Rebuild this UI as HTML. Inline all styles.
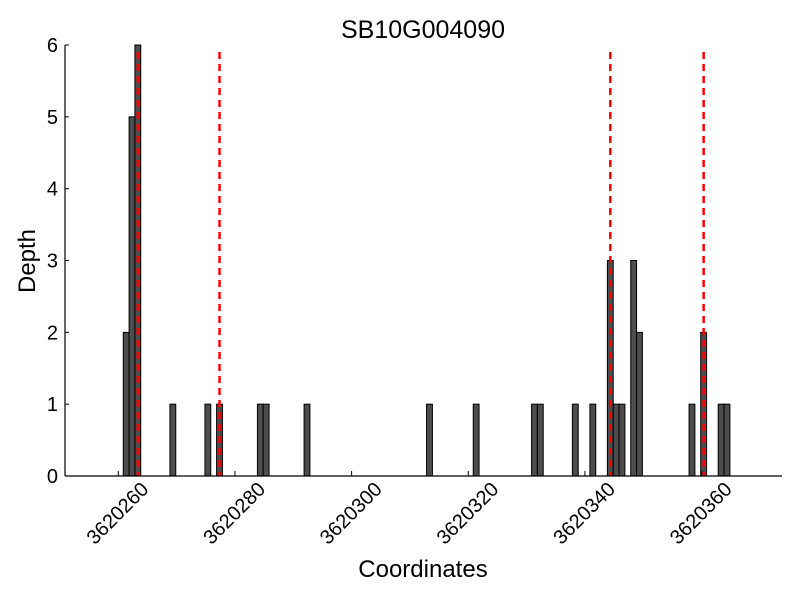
<!DOCTYPE html>
<html><head><meta charset="utf-8"><style>
body{margin:0;background:#fff}
svg{display:block;font-family:"Liberation Sans",sans-serif}
</style></head><body>
<svg id="chart" width="800" height="600" xmlns="http://www.w3.org/2000/svg">
<text x="423" y="38" font-size="25" text-anchor="middle">SB10G004090</text>
<text transform="translate(35,261) rotate(-90)" font-size="24" text-anchor="middle">Depth</text>
<text x="423" y="577" font-size="24" text-anchor="middle">Coordinates</text>
<g id="bars"></g><g id="lines"></g><g id="axes"></g>
</svg>
<script>
const positions=[261,262,263,269,275,277,284,285,292,313,321,331,332,338,341,344,345,346,348,349,358,360,363,364];
const depths=[2,5,6,1,1,1,1,1,1,1,1,1,1,1,1,3,1,1,3,2,1,2,1,1];
const markers=[263,277,344,360];
const xTicks=[3620260,3620280,3620300,3620320,3620340,3620360];
const yTicks=[0,1,2,3,4,5,6];
const BASE=3620000;
const NS="http://www.w3.org/2000/svg";
function sx(v){return 118.3+(v-260)*5.833;}
function sy(v){return 476-v*71.83;}
function mk(t,a,p){const e=document.createElementNS(NS,t);for(const k in a)e.setAttribute(k,a[k]);p.appendChild(e);return e;}
const bars=document.getElementById('bars'),lines=document.getElementById('lines'),axes=document.getElementById('axes');
positions.forEach((p,i)=>{
 const r=mk('rect',{x:sx(p-0.15),y:sy(depths[i]),width:5.833,height:476-sy(depths[i]),fill:'#4d4d4d',stroke:'#000','stroke-width':1},bars);
 
 
});
markers.forEach(m=>{
 const l=mk('line',{x1:sx(m+0.35),x2:sx(m+0.35),y1:52,y2:476,stroke:'#ff0000','stroke-width':2.5,'stroke-dasharray':'7,5'},lines);
 
 
});
const ya=mk('line',{x1:65,x2:65,y1:45,y2:476,stroke:'#000','stroke-width':1.2},axes);


const xa=mk('line',{x1:65,x2:782,y1:476,y2:476,stroke:'#000','stroke-width':1.2},axes);


yTicks.forEach(t=>{
 mk('line',{x1:65,x2:69,y1:sy(t),y2:sy(t),stroke:'#000'},axes);
 const tx=mk('text',{x:58,y:sy(t)+7,'font-size':20,'text-anchor':'end'},axes);
 tx.textContent=t;
 
 
});
xTicks.forEach(t=>{
 const x=sx(t-BASE);
 mk('line',{x1:x,x2:x,y1:476,y2:471,stroke:'#000'},axes);
 const tx=mk('text',{x:0,y:0,'font-size':20,'text-anchor':'middle',transform:`translate(${x-1},${513}) rotate(-45) translate(0,7)`},axes);
 tx.textContent=t;
 
 
});
</script>
</body></html>
